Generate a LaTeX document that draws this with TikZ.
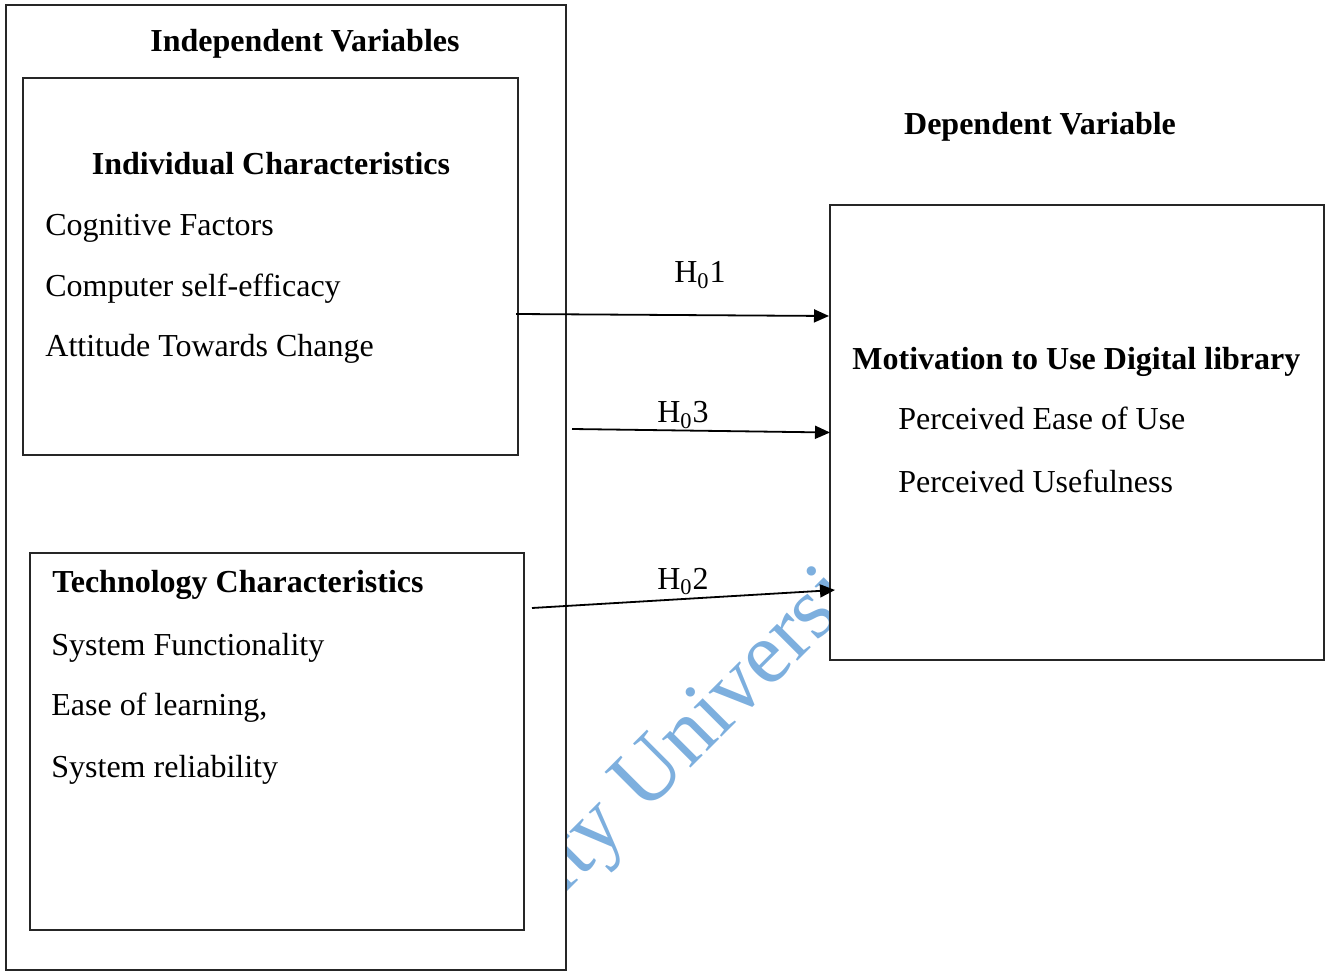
\documentclass[tikz,border=0pt]{standalone}
\usepackage{fontspec}
\setmainfont{Liberation Serif}
\usetikzlibrary{arrows.meta}
\definecolor{wmblue}{RGB}{125,175,222}
\begin{document}
\begin{tikzpicture}[x=0.5pt,y=-0.5pt,font=\fontsize{16}{19}\selectfont,
    box/.style={draw=black!85,line width=0.9pt,fill=white,inner sep=0pt,outer sep=0pt},
    item/.style={anchor=base west,inner sep=0pt},
    head/.style={anchor=base,inner sep=0pt,font=\fontsize{16}{19}\selectfont\bfseries},
    hyp/.style={anchor=base,inner sep=0pt},
    arr/.style={-{Triangle[length=7.5pt,width=6.5pt]},line width=0.9pt}]
    \useasboundingbox (0,0) rectangle (1332,972);
    % watermark behind the boxes
    \node[rotate=45,anchor=base west,inner sep=0pt,text=wmblue,
    	 font=\fontsize{44}{44}\selectfont] (W) at (535,924) {city University};
    
    \node[box,minimum width=280pt,minimum height=482.5pt] (IV) at (286,487.5) {};
    \node[box,minimum width=247.5pt,minimum height=188.5pt] (IC) at (270.5,266.5) {};
    \node[box,minimum width=247pt,minimum height=188.5pt] (TC) at (277,741.5) {};
    \node[box,minimum width=247pt,minimum height=227.5pt] (DV) at (1077,432.5) {};
    
    \node[head] (IVt) at (305,52) {Independent Variables};
    \node[head] (DVt) at (1040,135) {Dependent Variable};
    
    \node[head] (ICt) at (271,175) {Individual Characteristics};
    \node[item] (IC1) at (45,236) {Cognitive Factors};
    \node[item] (IC2) at (45,297) {Computer self-efficacy};
    \node[item] (IC3) at (45,357) {Attitude Towards Change};
    
    \node[head,anchor=base west] (TCt) at (52,592) {Technology Characteristics};
    \node[item] (TC1) at (51,655) {System Functionality};
    \node[item] (TC2) at (51,715) {Ease of learning,};
    \node[item] (TC3) at (51,777) {System reliability};
    
    \node[head,anchor=base west] (DVh) at (852,370) {Motivation to Use Digital library};
    \node[item] (DV1) at (898,430) {Perceived Ease of Use};
    \node[item] (DV2) at (898,493) {Perceived Usefulness};
    
    % hypotheses
    \coordinate (a1) at (516,314); \coordinate (b1) at (829,316);
    \coordinate (a3) at (572,429); \coordinate (b3) at (DV.west);
    \coordinate (a2) at (532,608); \coordinate (b2) at (835,590);
    \draw[arr] (a1) -- (b1); \draw[arr] (a3) -- (b3); \draw[arr] (a2) -- (b2);
    \node[hyp] (H1) at (700,283) {H\textsubscript{0}1};
    \node[hyp] (H3) at (683,423) {H\textsubscript{0}3};
    \node[hyp] (H2) at (683,589) {H\textsubscript{0}2};
\end{tikzpicture}
\end{document}
